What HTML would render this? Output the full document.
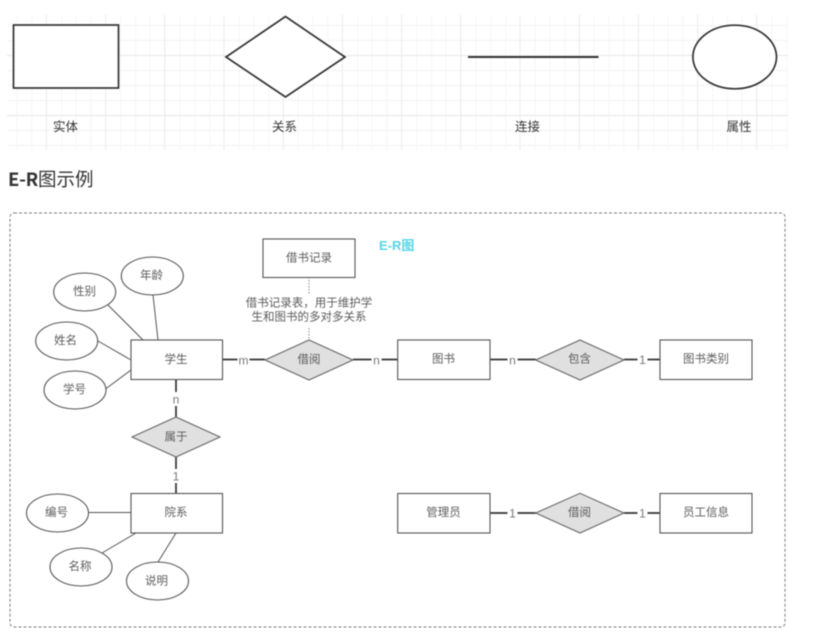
<!DOCTYPE html>
<html lang="zh">
<head>
<meta charset="utf-8">
<style>
html,body{margin:0;padding:0;background:#fff;width:824px;height:636px;overflow:hidden}
svg{display:block;position:absolute;left:0;top:0;filter:blur(.4px)}
text{font-family:"Liberation Sans","Noto Sans CJK SC",sans-serif}
.n{font-size:11.5px;fill:#5c5c5c;text-anchor:middle;dominant-baseline:central}
.h{font-size:12.5px;fill:#333;text-anchor:middle;dominant-baseline:central}
.b{fill:#fff;stroke:#555;stroke-width:1.1}
.d{fill:#e0e0e0;stroke:#666;stroke-width:1.1}
.l{stroke:#555;stroke-width:1;fill:none}
.t{stroke:#333;stroke-width:1.7;fill:none}
</style>
</head>
<body>
<svg width="824" height="636" viewBox="0 0 824 636" xmlns="http://www.w3.org/2000/svg">
<defs>
<pattern id="gm" patternUnits="userSpaceOnUse" x="2.7" y="11" width="14.8" height="15">
<path d="M14.5 0V15M0 14.5H14.8" stroke="#f3f3f3" stroke-width="1" fill="none"/>
</pattern>
<pattern id="gM" patternUnits="userSpaceOnUse" x="-12.5" y="-4" width="59.2" height="60">
<path d="M59 0V60M0 59.5H59.2" stroke="#e8e8e8" stroke-width="1" fill="none"/>
</pattern>
</defs>
<rect x="7" y="15" width="781" height="135" fill="url(#gm)"/>
<rect x="7" y="15" width="781" height="135" fill="url(#gM)"/>

<rect x="13.5" y="25" width="105" height="63" fill="#fff" stroke="#333" stroke-width="1.7"/>
<polygon points="226,57 285.5,16.5 345,57 285.5,97" fill="#fff" stroke="#333" stroke-width="1.7"/>
<line x1="468" y1="57" x2="598.5" y2="57" stroke="#333" stroke-width="1.9"/>
<ellipse cx="734.7" cy="57" rx="41.8" ry="31.8" fill="#fff" stroke="#333" stroke-width="1.7"/>
<text class="h" x="65.5" y="127">实体</text>
<text class="h" x="284.5" y="127">关系</text>
<text class="h" x="527.5" y="127">连接</text>
<text class="h" x="739" y="127">属性</text>

<text x="8" y="186" font-size="18.5" fill="#333" style='font-family:"Noto Sans CJK SC",sans-serif'><tspan font-weight="bold" letter-spacing="-.3">E-R</tspan><tspan>图示例</tspan></text>

<rect x="10" y="213" width="775" height="414" rx="4" fill="#fff" stroke="#7d7d7d" stroke-width="1" stroke-dasharray="3 2"/>

<text x="379" y="250" font-size="13" font-weight="bold" fill="#58d5e6">E-R图</text>

<line x1="309" y1="277" x2="309" y2="340" stroke="#888" stroke-width="1" stroke-dasharray="1.5 1.5"/>
<rect x="240" y="295" width="138" height="33" fill="#fff"/>
<text class="n" x="309" y="303.7">借书记录表，用于维护学</text>
<text class="n" x="309" y="317.7">生和图书的多对多关系</text>

<g class="l">
<line x1="108" y1="305" x2="143" y2="340"/>
<line x1="153" y1="295" x2="158" y2="340"/>
<line x1="98" y1="341" x2="131" y2="360"/>
<line x1="105.5" y1="389" x2="131" y2="370"/>
<line x1="88" y1="512.5" x2="131" y2="512.5"/>
<line x1="102" y1="553" x2="136" y2="533"/>
<line x1="158" y1="562" x2="176" y2="533"/>
</g>

<g class="t">
<line x1="222" y1="359.5" x2="265" y2="359.5"/>
<line x1="353" y1="359.5" x2="398" y2="359.5"/>
<line x1="490" y1="359.5" x2="536" y2="359.5"/>
<line x1="624" y1="359.5" x2="660" y2="359.5"/>
<line x1="490" y1="513" x2="536" y2="513"/>
<line x1="624" y1="513" x2="660" y2="513"/>
<line x1="176" y1="380" x2="176" y2="417"/>
<line x1="176" y1="457" x2="176" y2="493"/>
</g>

<g fill="#fff">
<rect x="237.5" y="353" width="12" height="13"/>
<rect x="371.5" y="353" width="10" height="13"/>
<rect x="507.5" y="353" width="10" height="13"/>
<rect x="637.5" y="353" width="10" height="13"/>
<rect x="507.5" y="506" width="10" height="13"/>
<rect x="637.5" y="506" width="10" height="13"/>
<rect x="170" y="392" width="12" height="14"/>
<rect x="170" y="469" width="12" height="14"/>
</g>
<text class="n" x="243.5" y="360.5" style="font-size:12px;fill:#777">m</text>
<text class="n" x="376.5" y="360.5" style="font-size:12px;fill:#777">n</text>
<text class="n" x="512.5" y="360.5" style="font-size:12px;fill:#777">n</text>
<text class="n" x="642.5" y="360" style="font-size:12px;fill:#777">1</text>
<text class="n" x="512.5" y="513.5" style="font-size:12px;fill:#777">1</text>
<text class="n" x="642.5" y="513.5" style="font-size:12px;fill:#777">1</text>
<text class="n" x="176" y="399.5" style="font-size:12px;fill:#777">n</text>
<text class="n" x="176" y="476.5" style="font-size:12px;fill:#777">1</text>

<rect class="b" x="263" y="239" width="92" height="38.5"/>
<rect class="b" x="131" y="340" width="91.5" height="39.5"/>
<rect class="b" x="397.7" y="340" width="92.3" height="39.5"/>
<rect class="b" x="660" y="340" width="92" height="39.5"/>
<rect class="b" x="131" y="493.5" width="91.5" height="39.5"/>
<rect class="b" x="397.7" y="493.5" width="92.3" height="39.5"/>
<rect class="b" x="660" y="493.5" width="92" height="39.5"/>

<polygon class="d" points="265,360 309,340 353,360 309,380"/>
<polygon class="d" points="535.7,360 580,340 624,360 580,380"/>
<polygon class="d" points="535.7,513 580,493.3 624,513 580,533"/>
<polygon class="d" points="132,437 176,417 220,437 176,457"/>

<ellipse class="b" cx="152.3" cy="276" rx="31" ry="19"/>
<ellipse class="b" cx="84.7" cy="292" rx="31" ry="19"/>
<ellipse class="b" cx="66.7" cy="341" rx="31" ry="19"/>
<ellipse class="b" cx="75" cy="390" rx="31" ry="19"/>
<ellipse class="b" cx="57.5" cy="513" rx="31" ry="19"/>
<ellipse class="b" cx="81" cy="567" rx="31" ry="19"/>
<ellipse class="b" cx="157.5" cy="581" rx="31" ry="19"/>

<text class="n" x="309" y="258.7">借书记录</text>
<text class="n" x="176" y="360.2">学生</text>
<text class="n" x="309" y="360.2">借阅</text>
<text class="n" x="443.5" y="359.7">图书</text>
<text class="n" x="579.5" y="359.7">包含</text>
<text class="n" x="706" y="359.7">图书类别</text>
<text class="n" x="176" y="437.7">属于</text>
<text class="n" x="176" y="513.2">院系</text>
<text class="n" x="443.5" y="513.2">管理员</text>
<text class="n" x="579.5" y="513.2">借阅</text>
<text class="n" x="706" y="513.2">员工信息</text>
<text class="n" x="151.5" y="276.2">年龄</text>
<text class="n" x="84.5" y="292.2">性别</text>
<text class="n" x="65.5" y="341.2">姓名</text>
<text class="n" x="74.5" y="390.2">学号</text>
<text class="n" x="56.5" y="513.2">编号</text>
<text class="n" x="80" y="567.2">名称</text>
<text class="n" x="156.5" y="581.7">说明</text>
</svg>
</body>
</html>
